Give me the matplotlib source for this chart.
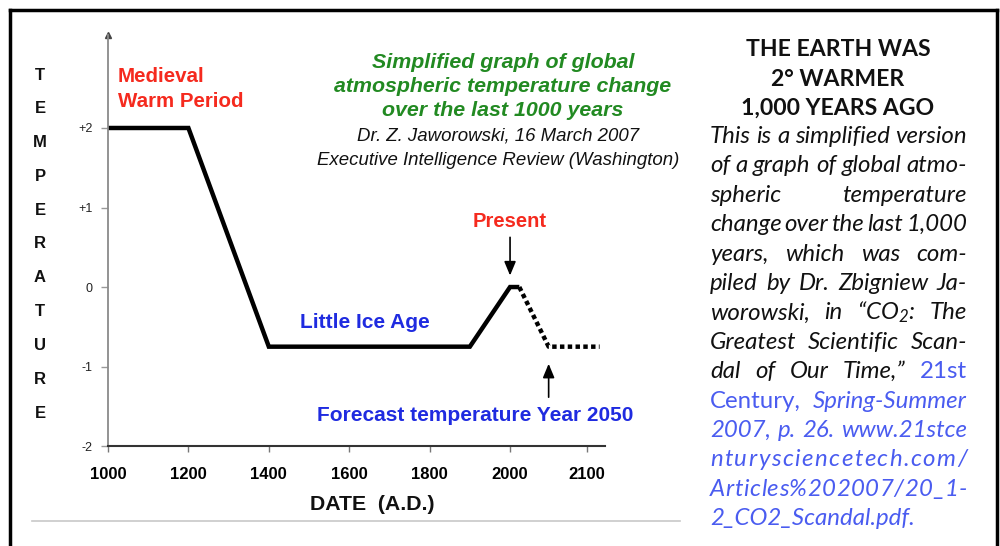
import numpy as np
import matplotlib
matplotlib.use("Agg")
import matplotlib.pyplot as plt
from matplotlib.lines import Line2D

W, H = 1000, 546

# --- data ---
years = [1000, 1200, 1400, 1900, 2000, 2012]
temps = [2, 2, -0.75, -0.75, 0, 0]
forecast_years = [2012, 2050, 2116]
forecast_temps = [0, -0.75, -0.75]

xticks = [1000, 1200, 1400, 1600, 1800, 2000, 2100]
yticks = [-2, -1, 0, 1, 2]
ylabels = ["-2", "-1", "0", "+1", "+2"]

heading = ["THE EARTH WAS", "2° WARMER", "1,000 YEARS AGO"]

BLACK = "#111111"
LINK = "#4a5cf0"
body_lines = [
    [("This", BLACK, "italic"), ("is", BLACK, "italic"), ("a", BLACK, "italic"),
     ("simplified", BLACK, "italic"), ("version", BLACK, "italic")],
    [("of", BLACK, "italic"), ("a", BLACK, "italic"), ("graph", BLACK, "italic"),
     ("of", BLACK, "italic"), ("global", BLACK, "italic"), ("atmo-", BLACK, "italic")],
    [("spheric", BLACK, "italic"), ("temperature", BLACK, "italic")],
    [("change", BLACK, "italic"), ("over", BLACK, "italic"), ("the", BLACK, "italic"),
     ("last", BLACK, "italic"), ("1,000", BLACK, "italic")],
    [("years,", BLACK, "italic"), ("which", BLACK, "italic"), ("was", BLACK, "italic"),
     ("com-", BLACK, "italic")],
    [("piled", BLACK, "italic"), ("by", BLACK, "italic"), ("Dr.", BLACK, "italic"),
     ("Zbigniew", BLACK, "italic"), ("Ja-", BLACK, "italic")],
    [("worowski,", BLACK, "italic"), ("in", BLACK, "italic"), ("“CO$_2$:", BLACK, "italic"),
     ("The", BLACK, "italic")],
    [("Greatest", BLACK, "italic"), ("Scientific", BLACK, "italic"), ("Scan-", BLACK, "italic")],
    [("dal", BLACK, "italic"), ("of", BLACK, "italic"), ("Our", BLACK, "italic"),
     ("Time,”", BLACK, "italic"), ("21st", LINK, "normal")],
    [("Century,", LINK, "normal"), ("Spring-Summer", LINK, "italic")],
    [("2007,", LINK, "italic"), ("p.", LINK, "italic"), ("26.", LINK, "italic"),
     ("www.21stce", LINK, "italic")],
    [("nturysciencetech.com/", LINK, "italic")],
    [("Articles%202007/20_1-", LINK, "italic")],
    [("2_CO2_Scandal.pdf.", LINK, "italic")],
]

plt.rcParams["font.family"] = ["Liberation Sans", "DejaVu Sans"]
plt.rcParams["mathtext.fontset"] = "custom"
plt.rcParams["mathtext.rm"] = "Lato:italic"
plt.rcParams["mathtext.it"] = "Lato:italic"


def fx(px):
    return px / W


def fy(py):
    return 1 - py / H


# the original stretches the 2000-2100 stretch of the date axis
K = 1.92


def fwd(x):
    x = np.asarray(x, dtype=float)
    return np.where(x <= 2000, x, 2000 + (x - 2000) * K)


def inv(x):
    x = np.asarray(x, dtype=float)
    return np.where(x <= 2000, x, 2000 + (x - 2000) / K)


fig = plt.figure(figsize=(W / 100, H / 100), dpi=100)
fig.patch.set_facecolor("white")

ax = fig.add_axes([0.108, 0.183, 0.497, 0.753])
ax.set_xscale("function", functions=(fwd, inv))
ax.set_xlim(1000, 2123)
ax.set_ylim(-2, 3.17)

ax.plot(years, temps, color="black", lw=3.2, solid_joinstyle="miter", solid_capstyle="butt")
ax.plot(forecast_years, forecast_temps, color="black", lw=3.2,
        linestyle=(0, (1.0, 0.75)), dash_capstyle="butt")

for s in ["top", "right"]:
    ax.spines[s].set_visible(False)
ax.spines["left"].set_color("#8a8a8a")
ax.spines["left"].set_linewidth(1.3)
ax.spines["bottom"].set_color("#333333")
ax.spines["bottom"].set_linewidth(1.5)
ax.plot([1000], [3.17], marker="^", color="#444444", markersize=5, clip_on=False)

ax.set_xticks(xticks)
ax.set_xticklabels([str(t) for t in xticks], fontsize=12, fontweight="bold")
ax.set_yticks(yticks)
ax.set_yticklabels(ylabels, fontsize=9, color="#222222")
ax.minorticks_off()
ax.tick_params(axis="x", length=4, width=1, color="#777777", pad=11)
ax.tick_params(axis="y", length=5, width=1, color="#999999", pad=6)

# labels on the curve
ax.text(1025, 2.77, "Medieval\nWarm Period", color="#f52a1e", fontsize=14.8,
        fontweight="bold", ha="left", va="top", linespacing=1.4)
ax.text(1639, -0.44, "Little Ice Age", color="#1f2be0", fontsize=15,
        fontweight="bold", ha="center", va="center")
ax.text(2000, 0.82, "Present", color="#f52a1e", fontsize=14.5,
        fontweight="bold", ha="center", va="center")
ax.text(1913, -1.62, "Forecast temperature Year 2050", color="#1f2be0", fontsize=15,
        fontweight="bold", ha="center", va="center")
ax.annotate("", xy=(2000, 0.11), xytext=(2000, 0.66),
            arrowprops=dict(arrowstyle="-|>,head_length=0.6,head_width=0.25",
                            color="black", lw=1.2, mutation_scale=14))
ax.annotate("", xy=(2050, -0.93), xytext=(2050, -1.42),
            arrowprops=dict(arrowstyle="-|>,head_length=0.6,head_width=0.25",
                            color="black", lw=1.2, mutation_scale=14))

# titles
title_lines = ["Simplified graph of global", "atmospheric temperature change",
               "over the last 1000 years"]
for i, t in enumerate(title_lines):
    fig.text(fx(503), fy(62 + i * 24.5), t, color="#228a22", fontsize=15.4,
             fontweight="bold", style="italic", ha="center", va="center")
sub_lines = ["Dr. Z. Jaworowski, 16 March 2007", "Executive Intelligence Review (Washington)"]
for i, t in enumerate(sub_lines):
    fig.text(fx(498), fy(136 + i * 24.5), t, color="#111111", fontsize=13.4,
             style="italic", ha="center", va="center")

fig.text(fx(372), fy(505), "DATE  (A.D.)", fontsize=15.3, fontweight="bold",
         ha="center", va="center", color="#111111")

for i, ch in enumerate("TEMPERATURE"):
    fig.text(fx(40), fy(75 + i * 33.8), ch, fontsize=12, fontweight="bold",
             ha="center", va="center", color="#111111")

# frame and rule
fig.add_artist(Line2D([fx(10), fx(997)], [fy(10), fy(10)], color="black", lw=2.5))
fig.add_artist(Line2D([fx(10), fx(10)], [fy(10), fy(546)], color="black", lw=2.5))
fig.add_artist(Line2D([fx(997), fx(997)], [fy(10), fy(546)], color="black", lw=2.5))
fig.add_artist(Line2D([fx(32), fx(680)], [fy(521), fy(521)], color="#c8c8c8", lw=1.2))

# side column
renderer = fig.canvas.get_renderer()
COL_L, COL_R = 710, 967

head_fs = 15
probe = fig.text(0, 0, heading[2], fontsize=head_fs, fontweight="bold", family="Lato")
head_fs = head_fs * 192 / probe.get_window_extent(renderer).width
probe.remove()
for i, t in enumerate(heading):
    fig.text(fx(838), fy(56 + i * 29.5), t, fontsize=head_fs, fontweight="bold",
             family="Lato", ha="center", va="baseline", color="#111111")

# body size chosen so the first line fills the column with plain spaces
body_fs = 15
probe = fig.text(0, 0, " ".join(w for w, _, _ in body_lines[0]), fontsize=body_fs,
                 style="italic", family="Lato")
body_fs = body_fs * (COL_R - COL_L) / probe.get_window_extent(renderer).width
probe.remove()

for li, line in enumerate(body_lines):
    base = 143 + li * 29.4
    pieces = line
    last = li == len(body_lines) - 1
    if len(line) == 1 and not last:
        word, col, st = line[0]
        pieces = [(c, col, st) for c in word]
    objs = [fig.text(0, fy(base), w, color=c, style=s, fontsize=body_fs, family="Lato",
                     ha="left", va="baseline") for w, c, s in pieces]
    widths = [o.get_window_extent(renderer).width for o in objs]
    if last:
        gap = 0
    else:
        gap = (COL_R - COL_L - sum(widths)) / max(len(objs) - 1, 1)
    x = COL_L
    for o, w in zip(objs, widths):
        o.set_x(fx(x))
        x += w + gap

fig.savefig("out.png", dpi=100)
